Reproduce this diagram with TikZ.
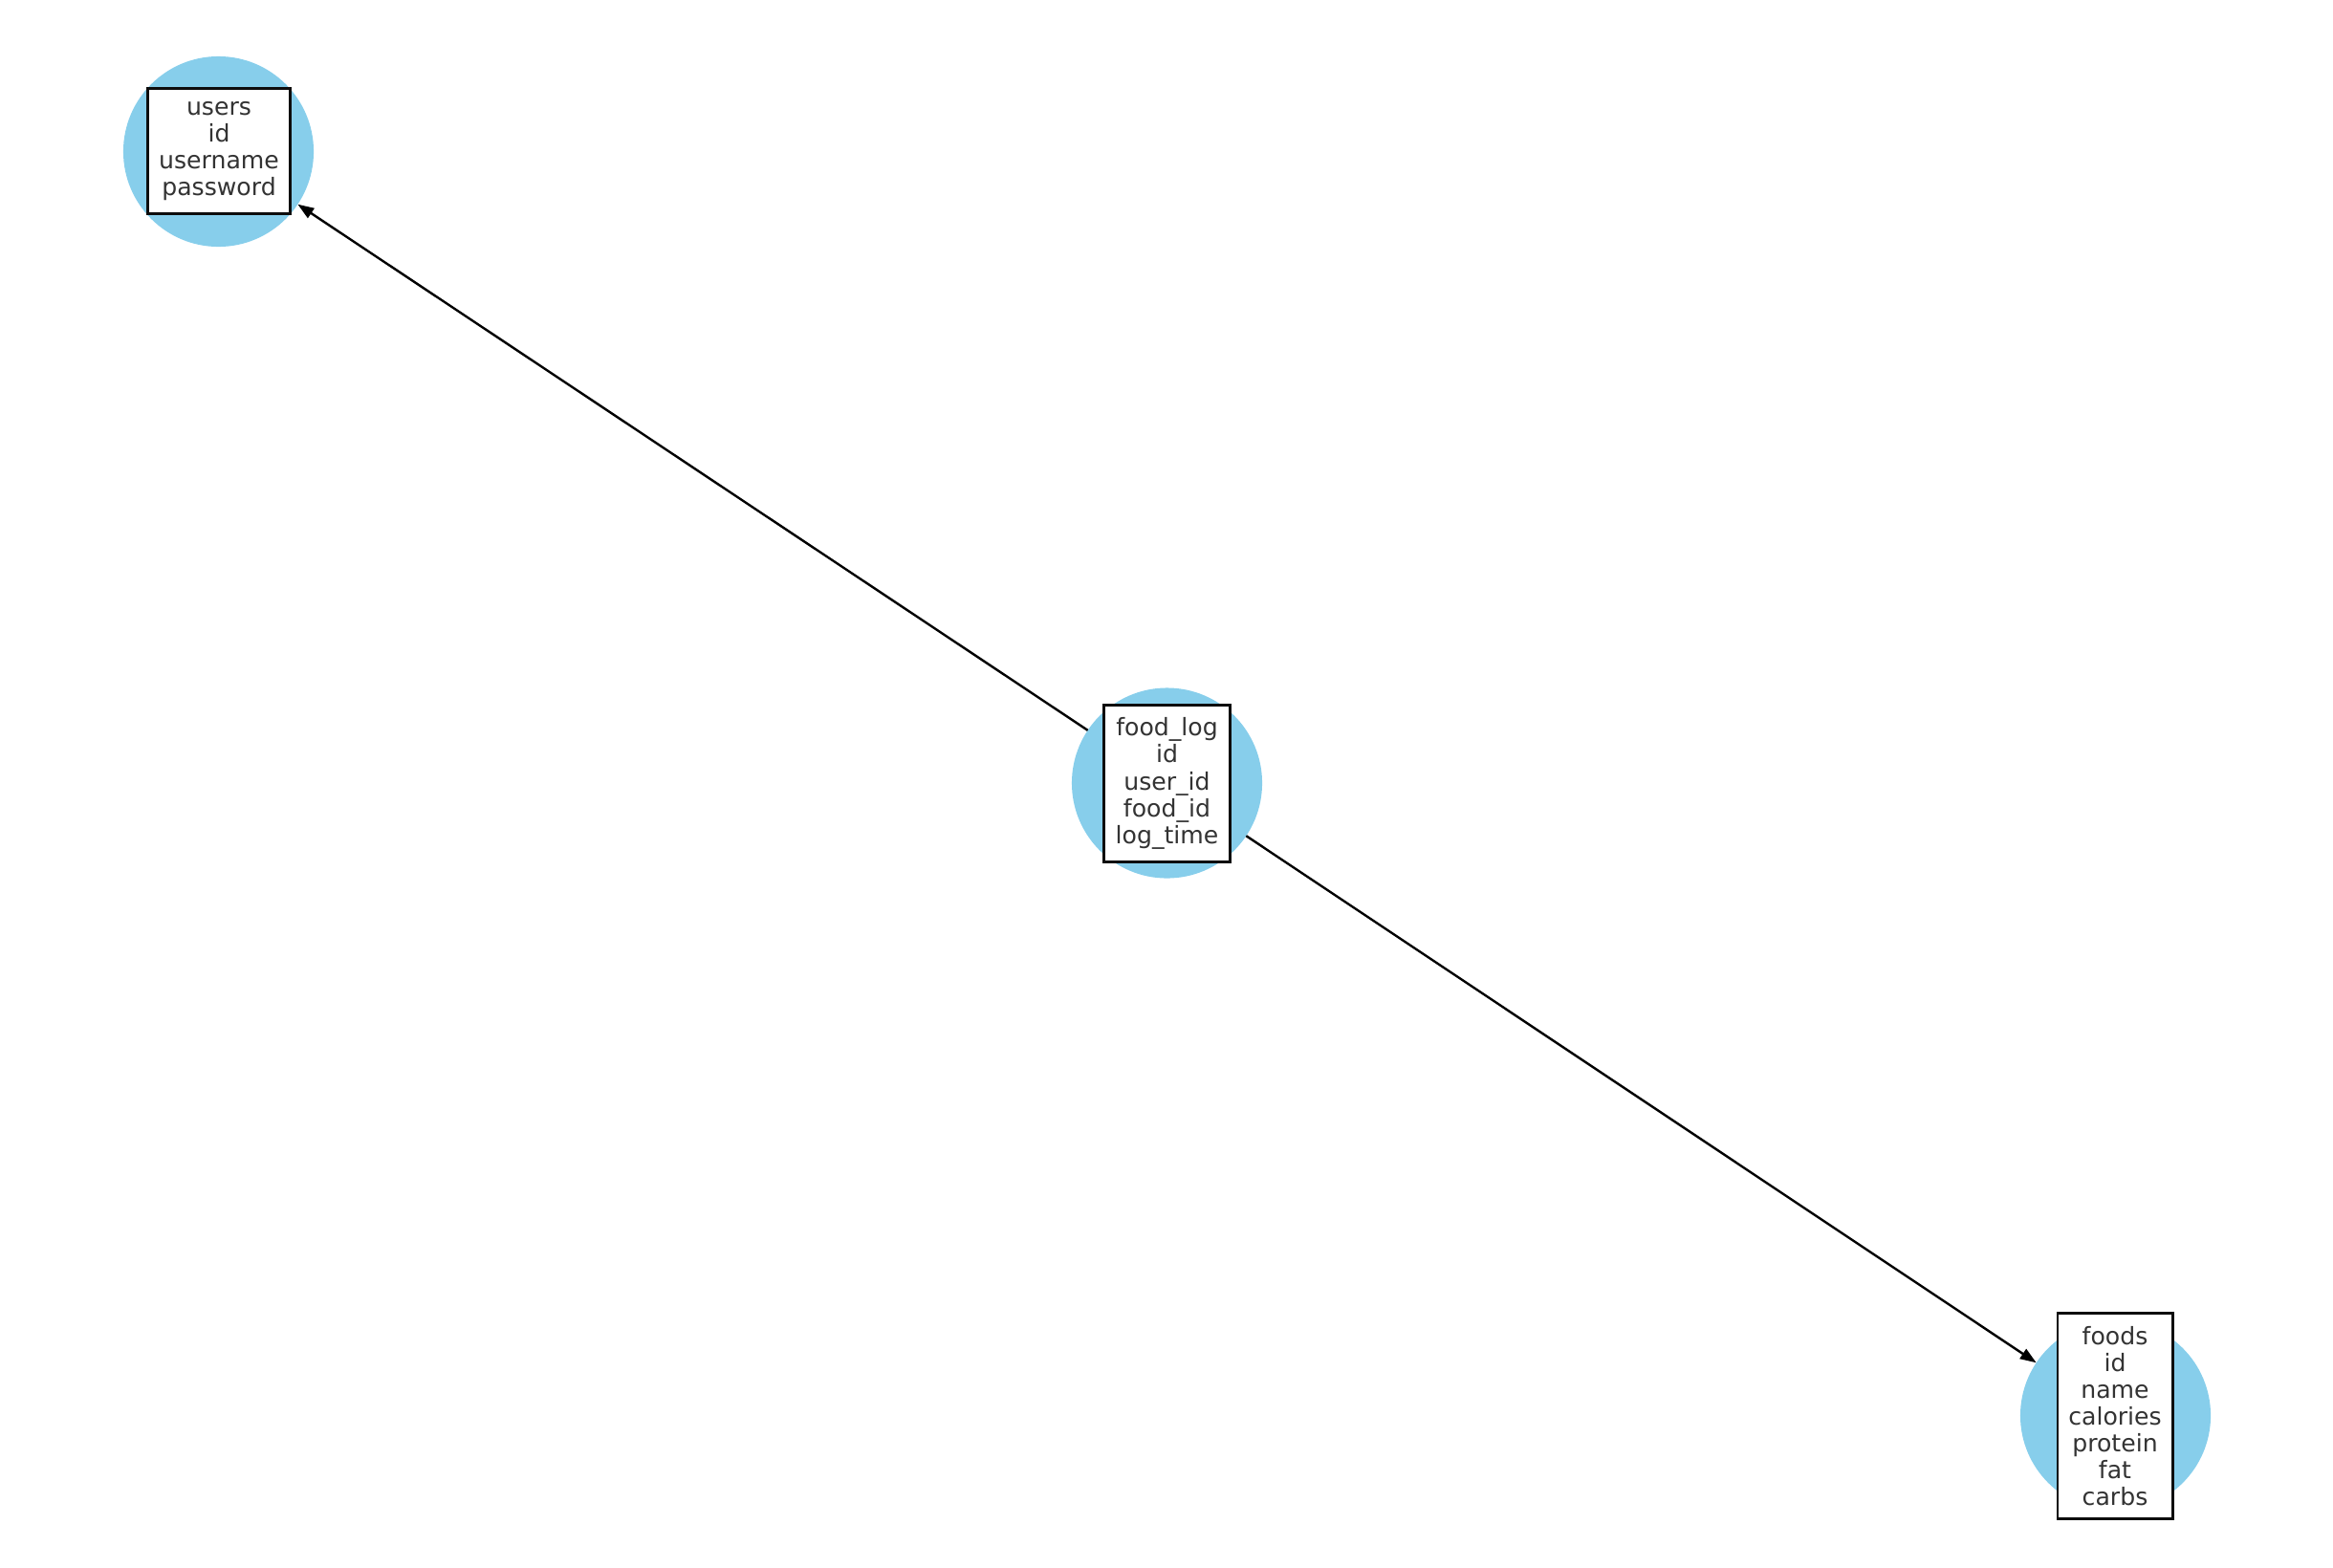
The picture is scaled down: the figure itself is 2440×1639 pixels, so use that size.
\documentclass[tikz,border=0pt]{standalone}
\usepackage{fontspec}
\setmainfont{DejaVu Sans}
\usetikzlibrary{arrows.meta}
\definecolor{skyblue}{RGB}{135,206,235}
\definecolor{txtgray}{RGB}{51,51,51}
\tikzset{
  tablecircle/.style={circle, fill=skyblue, draw=none, minimum size=1.99cm, inner sep=0pt, outer sep=0pt},
  tablebox/.style={rectangle, draw=black!95, line width=0.85pt, fill=white, align=center, inner sep=0pt,
    text=txtgray, font=\fontsize{7.15pt}{8pt}\selectfont},
  fkarrow/.style={draw=black, line width=0.68pt, -{Triangle[length=4.8pt,width=3.4pt]}}
}
\begin{document}
\begin{tikzpicture}[x=0.01cm,y=-0.01cm]
\useasboundingbox (0,0) rectangle (2440,1639);
\node[tablecircle] (usersc) at (228.5,158.5) {};
\node[tablecircle] (foodlogc) at (1220.5,819) {};
\node[tablecircle] (foodsc) at (2212.5,1480.5) {};
\draw[fkarrow] (foodlogc) -- (usersc);
\draw[fkarrow] (foodlogc) -- (foodsc);
\node[tablebox, minimum width=1.48cm, minimum height=1.30cm] (users) at (229,158) {\raisebox{0pt}[\height][\depth]{}users\\id\\username\\password};
\node[tablebox, minimum width=1.31cm, minimum height=1.63cm] (foodlog) at (1220.5,819.5) {food\_log\\id\\user\_id\\food\_id\\log\_time};
\node[tablebox, minimum width=1.20cm, minimum height=2.14cm] (foods) at (2212,1481) {foods\\id\\name\\calories\\protein\\fat\\carbs};
\end{tikzpicture}
\end{document}
